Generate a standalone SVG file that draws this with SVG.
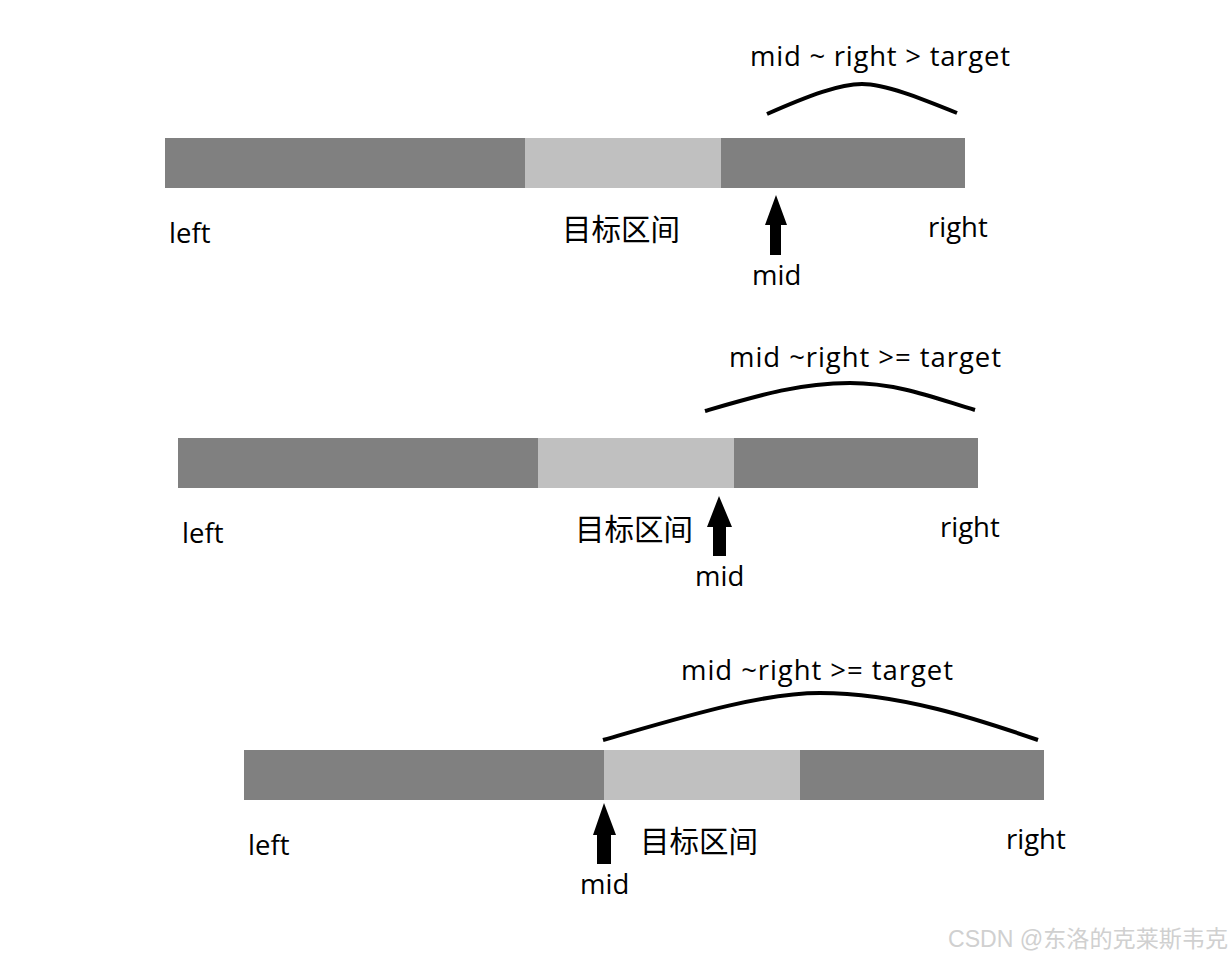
<svg xmlns="http://www.w3.org/2000/svg" width="1232" height="958" viewBox="0 0 1232 958">
<style>
.d{fill:#808080}
.l{fill:#c0c0c0}
.t{font-family:"Open Sans","Noto Sans",sans-serif;font-size:27.5px;fill:#000}
.c{font-family:"Noto Sans CJK SC",sans-serif;font-size:29.5px;fill:#000}
.cv{fill:none;stroke:#000;stroke-width:4}
.ar{fill:#000}
.wm{font-family:"Liberation Sans","Noto Sans CJK SC",sans-serif;font-size:23px;fill:#d0d0d0}
</style>
<rect width="1232" height="958" fill="#fff"/>
<g id="row1">
<rect class="d" x="165" y="138" width="360" height="50"/>
<rect class="l" x="525" y="138" width="196" height="50"/>
<rect class="d" x="721" y="138" width="244" height="50"/>
<text class="t" x="750" y="66" textLength="260" lengthAdjust="spacing">mid ~ right &gt; target</text>
<text class="t" x="169" y="243">left</text>
<text class="c" x="562" y="240">目标区间</text>
<text class="t" x="928" y="237">right</text>
<text class="t" x="752" y="285">mid</text>
</g>
<g id="row2">
<rect class="d" x="178" y="438" width="360" height="50"/>
<rect class="l" x="538" y="438" width="196" height="50"/>
<rect class="d" x="734" y="438" width="244" height="50"/>
<text class="t" x="729" y="367" textLength="272" lengthAdjust="spacing">mid ~right &gt;= target</text>
<text class="t" x="182" y="543">left</text>
<text class="c" x="575" y="540">目标区间</text>
<text class="t" x="940" y="537">right</text>
<text class="t" x="695" y="586">mid</text>
</g>
<g id="row3">
<rect class="d" x="244" y="750" width="360" height="50"/>
<rect class="l" x="604" y="750" width="196" height="50"/>
<rect class="d" x="800" y="750" width="244" height="50"/>
<text class="t" x="681" y="680" textLength="272" lengthAdjust="spacing">mid ~right &gt;= target</text>
<text class="t" x="248" y="855">left</text>
<text class="c" x="640" y="852">目标区间</text>
<text class="t" x="1006" y="849">right</text>
<text class="t" x="580" y="894">mid</text>
</g>
<g id="connectors">
<path class="cv" d="M767,114 C810,95 840,84 862,84 C885,84 920,98 957,113"/>
<path class="cv" d="M705,411 C760,395 800,383 850,383 C900,383 940,400 975,410"/>
<path class="cv" d="M603,740 C680,718 760,693 820,693 C900,693 980,720 1038,740"/>
<path class="ar" d="M776,195 L787,225 L781,225 L781,255 L770,255 L770,225 L765,225 Z"/>
<path class="ar" d="M719,496 L732,527 L726,527 L726,556 L713,556 L713,527 L707,527 Z"/>
<path class="ar" d="M604,803 L616,835 L611,835 L611,864 L597,864 L597,835 L593,835 Z"/>
</g>
<text class="wm" x="948" y="947" textLength="280" lengthAdjust="spacingAndGlyphs">CSDN @东洛的克莱斯韦克</text>
</svg>
